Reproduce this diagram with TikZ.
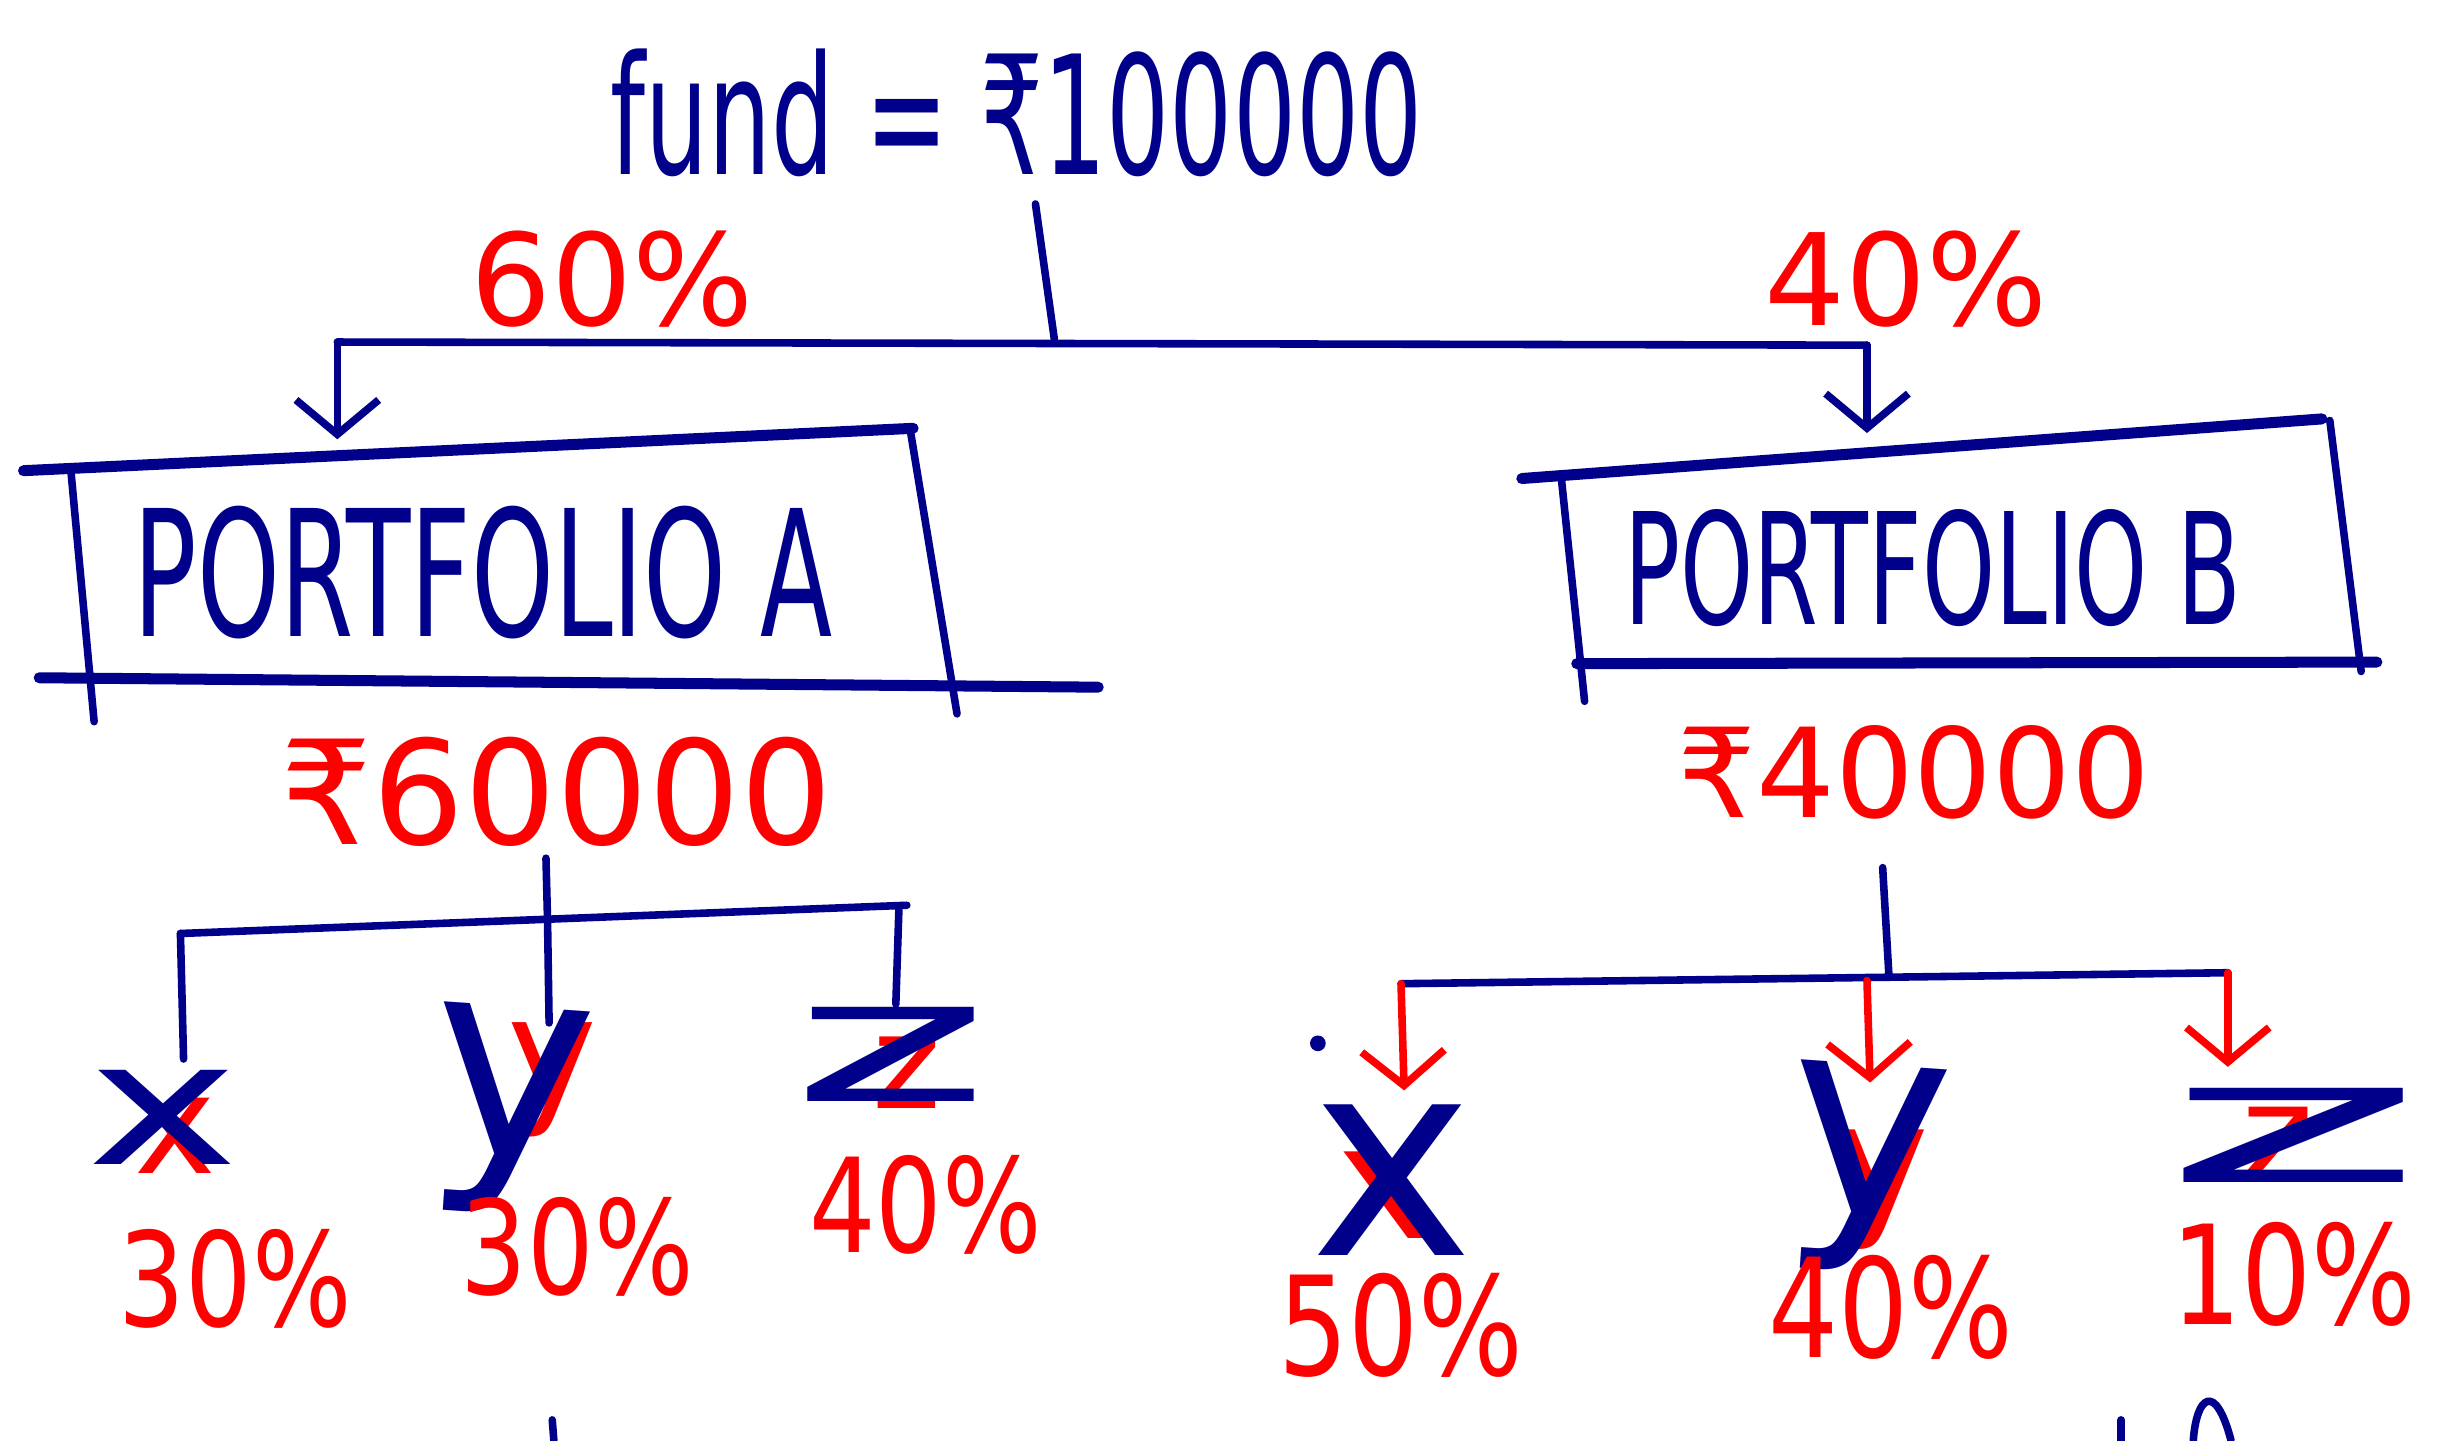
\documentclass[tikz,border=0pt]{standalone}
\usepackage{fontspec}
\usepackage{xcolor}
\usepackage{graphicx}
\usepackage{tikz}
\usetikzlibrary{arrows.meta}
\newfontfamily\hand[FakeStretch=0.6]{DejaVu Sans}
\newfontfamily\hands[FakeStretch=0.8]{DejaVu Sans}
\newfontfamily\handw{DejaVu Sans}
\definecolor{hblue}{RGB}{0,0,139}
\definecolor{hred}{RGB}{255,0,0}

\begin{document}
\begin{tikzpicture}[x=0.016cm,y=-0.016cm,
   ink/.style={draw=hblue,line width=2.2pt,line cap=round},
   heavy/.style={draw=hblue,line width=3.2pt,line cap=round},
   redink/.style={draw=hred,line width=2.2pt,line cap=round},
   hw/.style={inner sep=0pt,font=\hand\fontsize{#1}{#1}\selectfont},
   pc/.style={inner sep=0pt,font=\hands\fontsize{#1}{#1}\selectfont},
   lt/.style={inner sep=0pt,font=\handw\fontsize{#1}{#1}\selectfont},
   bl/.style={text=hblue}, rd/.style={text=hred},
   tip/.style={-{Straight Barb[length=10pt,width=24pt]}}]
  \useasboundingbox (0,0) rectangle (1568,918);
  % top line: fund and its split
  \node[hw=48,bl] (fund) at (648,72) {fund = ₹100000};
  \node[lt=37,rd] (pctA) at (390,178) {60\%};
  \node[lt=37,rd] (pctB) at (1215,178) {40\%};
  \coordinate (topS) at (660,130);
  \coordinate (topJ) at (672,216);
  \coordinate (hL) at (215,218);
  \coordinate (hR) at (1190,220);
  \coordinate (inA) at (215,280);
  \coordinate (inB) at (1190,276);
  \draw[ink] (topS) -- (topJ);
  \draw[ink] (hL) -- (hR);
  \draw[ink,tip] (hL) -- (inA);
  \draw[ink,tip] (hR) -- (inB);
  % portfolio A box
  \node[hw=51,bl] (portA) at (308,365) {PORTFOLIO A};
  \draw[heavy] (15,300) -- (582,273);
  \draw[ink] (45,298) -- (60,460);
  \draw[ink] (580,273) -- (610,455);
  \draw[heavy] (25,432) -- (700,438);
  % portfolio B box
  \node[hw=45,bl] (portB) at (1232,362) {PORTFOLIO B};
  \draw[heavy] (970,305) -- (1480,267);
  \draw[ink] (995,303) -- (1010,447);
  \draw[ink] (1485,268) -- (1505,428);
  \draw[heavy] (1005,423) -- (1515,422);
  % amounts
  \node[lt=42,rd] (amtA) at (355,505) {₹60000};
  \node[lt=36,rd] (amtB) at (1220,492) {₹40000};
  % split of A
  \coordinate (aS) at (348,547);
  \coordinate (aJ) at (349,587);
  \coordinate (aL) at (115,595);
  \coordinate (aR) at (578,577);
  \coordinate (aX) at (117,675);
  \coordinate (aY) at (350,652);
  \coordinate (aZ) at (571,640);
  \draw[ink] (aS) -- (aJ);
  \draw[ink] (aL) -- (aR);
  \draw[ink] (aL) -- (aX);
  \draw[ink] (aJ) -- (aY);
  \draw[ink] (573,578) -- (aZ);
  \node[lt=40,rd] (axr) at (112,724) {x};
  \node[lt=50,bl] (axb) at (104,712) {\scalebox{1.5}[1]{x}};
  \node[lt=44,rd] (ayr) at (352,688) {y};
  \node[lt=80,bl,rotate=-4] (ayb) at (325,708) {y};
  \node[lt=38,rd] (azr) at (578,684) {z};
  \node[lt=50,bl] (azb) at (568,672) {\scalebox{2.2}[1]{z}};
  \node[pc=38,rd] (pAx) at (150,815) {30\%};
  \node[pc=38,rd] (pAy) at (368,795) {30\%};
  \node[pc=38,rd] (pAz) at (590,768) {40\%};
  % split of B
  \coordinate (bS) at (1200,553);
  \coordinate (bJ) at (1204,622);
  \coordinate (bL) at (893,627);
  \coordinate (bR) at (1420,620);
  \coordinate (bX) at (895,695);
  \coordinate (bY) at (1192,690);
  \coordinate (bZ) at (1420,680);
  \draw[ink] (bS) -- (bJ);
  \draw[ink] (bL) -- (bR);
  \draw[redink,tip] (bL) -- (bX);
  \draw[redink,tip] (1190,625) -- (bY);
  \draw[redink,tip] (bR) -- (bZ);
  \fill[hblue] (840,665) circle (5);
  \node[lt=46,rd] (bxr) at (882,762) {x};
  \node[lt=80,bl] (bxb) at (887,752) {x};
  \node[lt=46,rd] (byr) at (1200,758) {y};
  \node[lt=80,bl,rotate=-4] (byb) at (1190,745) {y};
  \node[lt=40,rd] (bzr) at (1452,730) {z};
  \node[lt=50,bl] (bzb) at (1462,724) {\scalebox{2.9}[1]{z}};
  \node[pc=40,rd] (pBx) at (893,845) {50\%};
  \node[pc=40,rd] (pBy) at (1205,833) {40\%};
  \node[pc=40,rd] (pBz) at (1462,812) {10\%};
  % cut-off strokes at the bottom
  \draw[ink] (352,905) -- (353,918);
  \draw[ink] (1352,905) -- (1352,918);
  \draw[ink] (1398,918) .. controls (1400,890) and (1412,880) .. (1422,918);
\end{tikzpicture}
\end{document}
